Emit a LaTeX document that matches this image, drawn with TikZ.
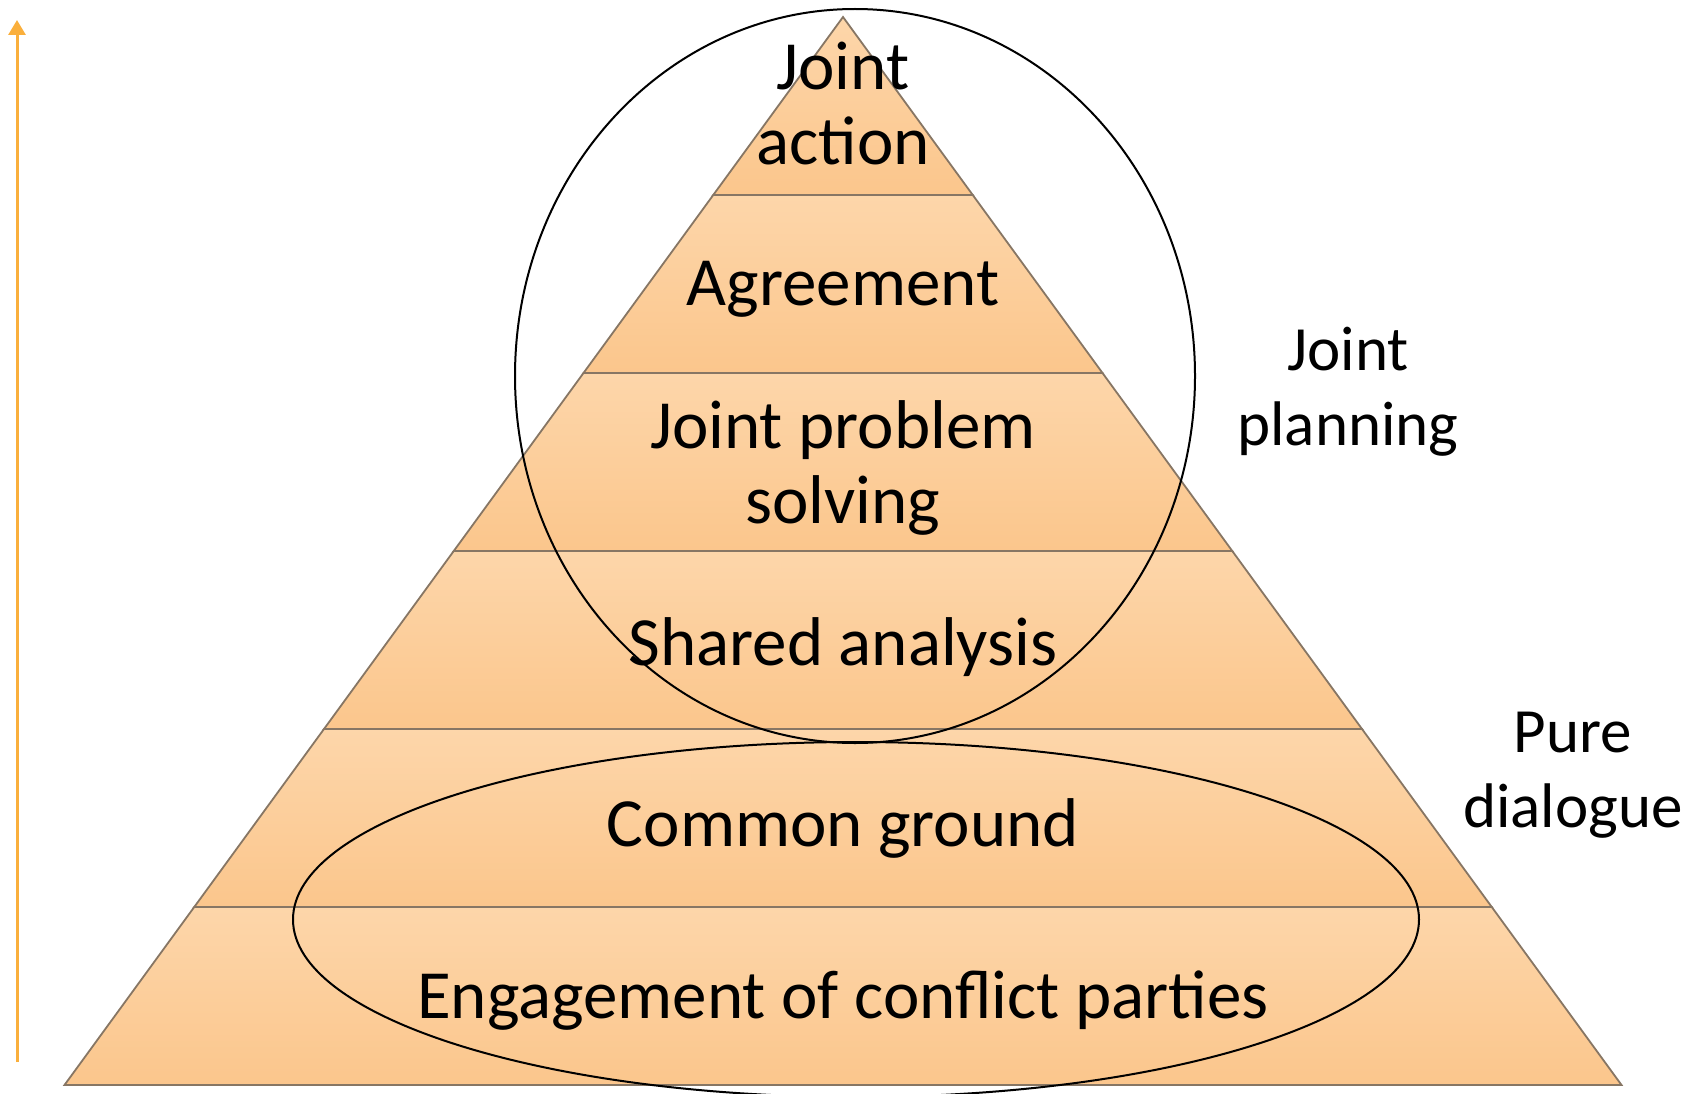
\documentclass[tikz,border=0pt]{standalone}
\usepackage{fontspec}
\setmainfont{Carlito}
\usetikzlibrary{arrows.meta}
\definecolor{pyrtop}{RGB}{253,214,170}
\definecolor{pyrbot}{RGB}{251,198,140}
\definecolor{edgecol}{RGB}{135,118,100}
\definecolor{arrcol}{RGB}{250,175,60}
\begin{document}
\begin{tikzpicture}[x=1pt,y=-1pt,
  band/.style={top color=pyrtop, bottom color=pyrbot, draw=edgecol, line width=1.8pt, line join=miter},
  lab/.style={font=\fontsize{69}{75}\selectfont, align=center, inner sep=0pt, anchor=base},
  side/.style={font=\fontsize{63}{75}\selectfont, align=center, inner sep=0pt, anchor=base},
  ring/.style={draw=black, line width=2pt}]
\useasboundingbox (0,0) rectangle (1702,1094);
% pyramid bands
\foreach \k in {0,...,5} {
  \pgfmathsetmacro\yt{17+178*\k}
  \pgfmathsetmacro\yb{17+178*(\k+1)}
  \pgfmathsetmacro\wt{129.75*\k}
  \pgfmathsetmacro\wb{129.75*(\k+1)}
  \path[band] ({843-\wt},\yt) -- ({843+\wt},\yt) -- ({843+\wb},\yb) -- ({843-\wb},\yb) -- cycle;
}
% arrow
\coordinate (arrbot) at (17,1062);
\coordinate (arrtop) at (17,20);
\draw[draw=arrcol, line width=3pt, -{Triangle[width=17pt,length=15pt]}, arrcol] (arrbot) -- (arrtop);
% labels (base anchor = baseline of the last line)
\node[lab] (ja) at (843,165) {Joint\\action};
\node[lab] (ag) at (843,305) {Agreement};
\node[lab] (jps) at (843,523) {Joint problem\\solving};
\node[lab] (sa) at (843,665) {Shared analysis};
\node[lab] (cg) at (843,846) {Common ground};
\node[lab] (ec) at (843,1018) {Engagement of conflict parties};
\node[side] (jp) at (1348,445) {Joint\\planning};
\node[side] (pd) at (1573,827) {Pure\\dialogue};
% rings
\draw[ring] (855,376) ellipse [x radius=340pt, y radius=367pt];
\draw[ring] (856,919.5) ellipse [x radius=563pt, y radius=177.5pt];
\end{tikzpicture}
\end{document}
